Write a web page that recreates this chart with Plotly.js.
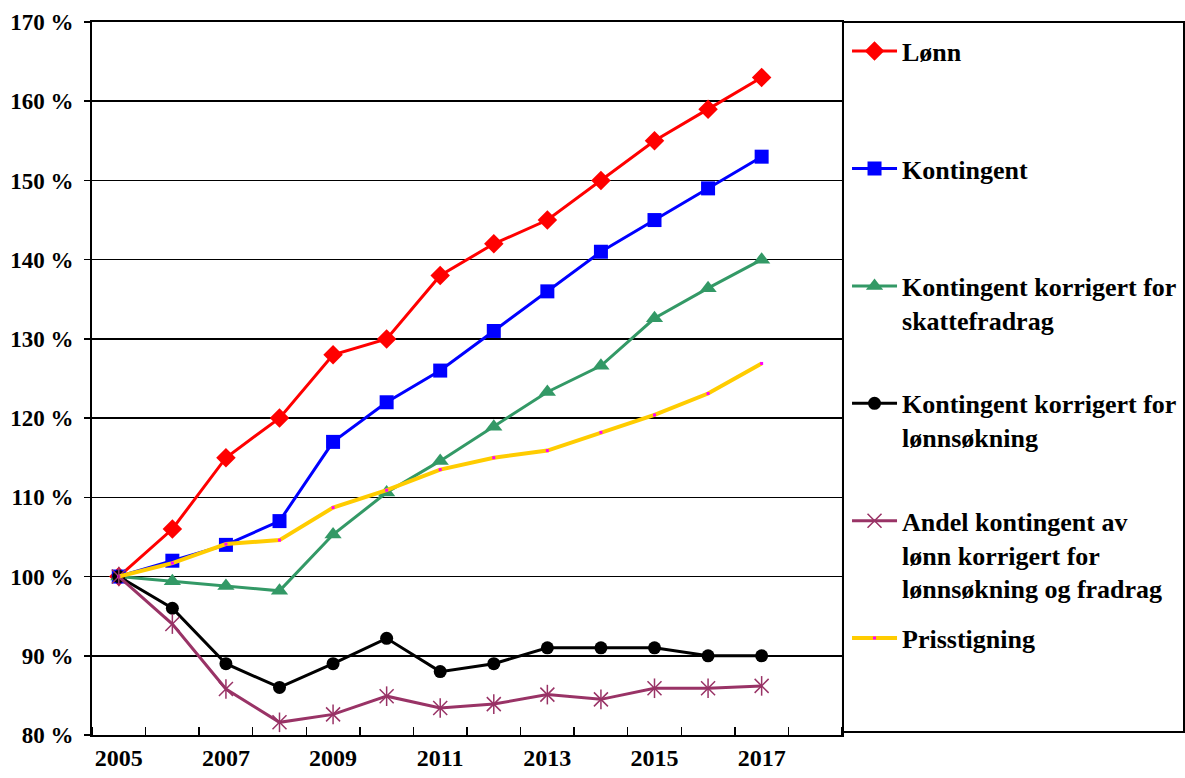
<!DOCTYPE html>
<html>
<head>
<meta charset="utf-8">
<script src="https://cdn.plot.ly/plotly-3.0.1.min.js"></script>
<style>html,body{margin:0;padding:0;background:#fff;}#chart{width:1185px;height:778px;}</style>
</head>
<body>
<div id="chart"></div>
<script>
const years = [2005,2006,2007,2008,2009,2010,2011,2012,2013,2014,2015,2016,2017];
const tickYears = [2005,2007,2009,2011,2013,2015,2017];
const lonn = [100,106,115,120,128,130,138,142,145,150,155,159,163];
const kontingent = [100,102,104,107,117,122,126,131,136,141,145,149,153];
const kontSkatt = [100,99.4,98.8,98.2,105.3,110.6,114.6,118.9,123.3,126.6,132.6,136.4,140];
const kontLonn = [100,96,89,86,89,92.2,88,89,91,91,91,90,90];
const andel = [100,94,85.8,81.6,82.6,84.9,83.4,83.9,85.1,84.5,85.9,85.9,86.2];
const pris = [100,101.7,104.1,104.6,108.7,110.9,113.5,115,115.9,118.2,120.4,123.1,126.9];

const names = [
  'Lønn<br> <br> ',
  'Kontingent<br> <br> ',
  'Kontingent korrigert for<br>skattefradrag<br> ',
  'Kontingent korrigert for<br>lønnsøkning<br> ',
  'Andel kontingent av<br>lønn korrigert for<br>lønnsøkning og fradrag',
  'Prisstigning<br> <br> '
];

const traces = [
  {x: years, y: lonn, name: names[0], legendgroup: 'g1', mode: 'lines+markers',
   line: {color: '#FF0000', width: 3}, marker: {symbol: 'diamond', size: 15, color: '#FF0000'}},
  {x: years, y: kontingent, name: names[1], legendgroup: 'g2', mode: 'lines+markers',
   line: {color: '#0000FF', width: 3}, marker: {symbol: 'square', size: 14, color: '#0000FF'}},
  {x: years, y: kontSkatt, name: names[2], legendgroup: 'g3', mode: 'lines+markers',
   line: {color: '#339966', width: 3}, marker: {symbol: 'triangle-up', size: 15, color: '#339966'}},
  {x: years, y: kontLonn, name: names[3], legendgroup: 'g4', mode: 'lines+markers',
   line: {color: '#000000', width: 3}, marker: {symbol: 'circle', size: 13, color: '#000000'}},
  {x: years, y: andel, name: names[4], legendgroup: 'g5', mode: 'lines+markers',
   line: {color: '#993366', width: 3}, marker: {symbol: 'x-thin-open', size: 14, color: '#993366', line: {color: '#993366', width: 1.5}}},
  {x: years, y: pris, name: names[5], legendgroup: 'g6', mode: 'lines+markers',
   line: {color: '#FFCC00', width: 4}, marker: {symbol: 'square', size: 3, color: '#FF00FF'}},
  {x: years, y: andel, showlegend: false, legendgroup: 'g5', mode: 'markers', hoverinfo: 'skip',
   marker: {symbol: 'line-ns-open', size: 14, color: '#993366', line: {color: '#993366', width: 1.5}}}
];

const fontFam = 'Liberation Serif, Times New Roman, serif';

const layout = {
  width: 1185, height: 778,
  margin: {l: 92, r: 343, t: 22, b: 43, autoexpand: false},
  paper_bgcolor: '#fff', plot_bgcolor: '#fff',
  showlegend: true,
  font: {family: fontFam, color: '#000'},
  xaxis: {
    range: [2004.5, 2018.5], tickvals: tickYears, ticktext: tickYears.map(String),
    ticks: '', showgrid: false, zeroline: false,
    showline: true, linecolor: '#000', linewidth: 2, mirror: true,
    tickfont: {family: fontFam, size: 24, color: '#000', weight: 'bold'},
    minor: {tick0: 2004.5, dtick: 1, ticks: 'inside', ticklen: 8, tickcolor: '#000', tickwidth: 1.5, showgrid: false}
  },
  yaxis: {
    range: [80, 170], dtick: 10, ticksuffix: ' %',
    showgrid: true, gridcolor: '#000', gridwidth: 1.5, zeroline: false,
    showline: true, linecolor: '#000', linewidth: 2, mirror: true,
    ticks: 'outside', ticklen: 6, tickcolor: '#000', tickwidth: 1.5,
    ticklabelstandoff: 6,
    tickfont: {family: fontFam, size: 23, color: '#000', weight: 'bold'}
  },
  legend: {
    x: 1.0067, xanchor: 'left', y: 0.992, yanchor: 'top',
    bgcolor: 'rgba(0,0,0,0)', borderwidth: 0,
    font: {family: fontFam, size: 26, color: '#000', weight: 'bold'},
    itemwidth: 45, valign: 'top', tracegroupgap: 13,
    traceorder: 'grouped'
  },
  shapes: [
    {type: 'rect', xref: 'paper', yref: 'paper', x0: 1.0013, x1: 1.456, y0: 0.0042, y1: 1.0,
     line: {color: '#000', width: 2}, fillcolor: 'rgba(0,0,0,0)'}
  ]
};

Plotly.newPlot('chart', traces, layout, {displayModeBar: false, staticPlot: true});
</script>
</body>
</html>
